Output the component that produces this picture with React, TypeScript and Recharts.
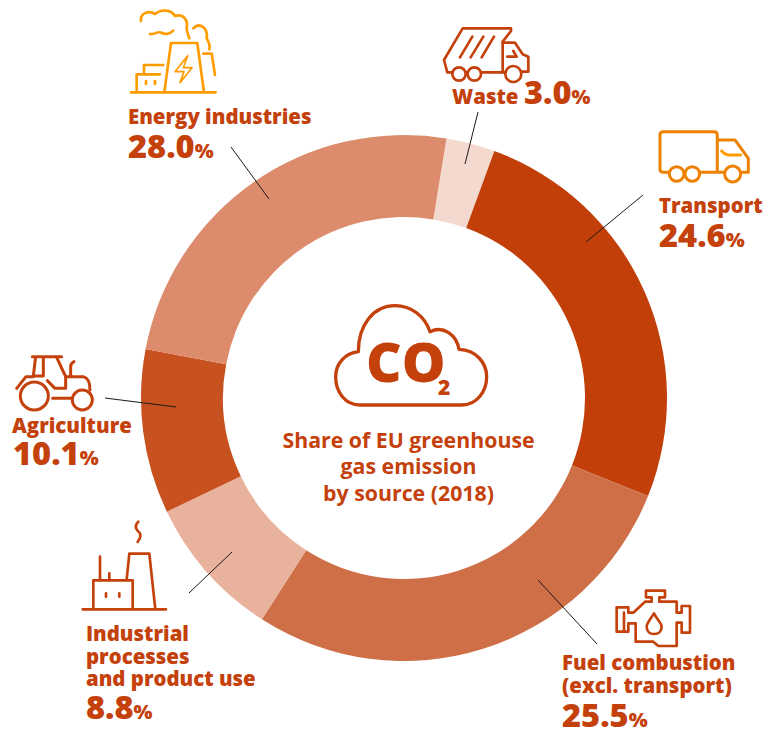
import React from 'react';
import { PieChart, Pie, Cell } from 'recharts';

// Printed percentages, in clockwise order starting at Waste
const names = [['Waste'], ['Transport'], ['Fuel combustion', '(excl. transport)'], ['Industrial', 'processes', 'and product use'], ['Agriculture'], ['Energy industries']];
const printedShares = ['3.0', '24.6', '25.5', '8.8', '10.1', '28.0'];
// Slice sizes as drawn in the picture: the source's arcs do not follow the printed numbers
const drawnShares = [3.0, 25.5, 28.0, 8.8, 10.1, 24.6];
const COLORS = ['#F4D9CE', '#C23F0A', '#CF6F47', '#E8B29D', '#C85120', '#DC8C6C'];

const TEXT = '#C4410C';
const ORANGE = '#FF9C00';
const FONT = '"Open Sans", sans-serif';

const pieData = names.map((name, index) => ({ name: name.join(' '), value: drawnShares[index] }));

// where each label block sits: x, name baselines, number baseline
const labelPos = [
  { x: 452, lines: [104], numX: 524, numY: 104 },
  { x: 659, lines: [213], numX: 659, numY: 247 },
  { x: 562, lines: [670, 693], numX: 562, numY: 727 },
  { x: 86, lines: [641, 663.5, 686], numX: 86, numY: 719 },
  { x: 12, lines: [433], numX: 13, numY: 465 },
  { x: 128, lines: [124], numX: 128, numY: 158 },
];

// leader lines from label to ring
const leaders = [
  [478, 112, 465, 164],
  [643, 195, 586, 242],
  [538, 580, 597, 644],
  [232, 552, 189, 593],
  [105, 398, 176, 407],
  [231, 147, 269, 199],
];

// icons are traced at 3x, hence the scale
function Icon({ x, y, color, width = 8, children }: any) {
  return (
    <g transform={`translate(${x} ${y}) scale(0.3333)`} fill="none" stroke={color} strokeWidth={width} strokeLinecap="round" strokeLinejoin="round">
      {children}
    </g>
  );
}

function Icons() {
  return (
    <>
      {/* energy plant */}
      <Icon x={120} y={0} color={ORANGE}>
        <path d="M33 277H287M133 277L153 129H232L252 277" />
        <path d="M203 167L165 215H192L180 248L216 203H190Z" strokeWidth={5} />
        <path d="M50 277V223H120M72 220V195H130M78 243V252M105 243V252M250 161H275L285 225" />
        <path d="M63 63C60 40 85 30 105 42C125 25 155 30 165 48C190 40 205 60 200 85C200 95 205 105 208 115" />
        <path d="M90 102C105 105 110 92 125 98C135 105 150 102 160 92" />
        <path d="M220 85C240 65 265 85 260 115C265 125 272 135 268 148" />
      </Icon>
      {/* garbage truck */}
      <Icon x={430} y={15} color={TEXT}>
        <path d="M65 172H52L42 135L98 40H243V48L218 80V172H155M110 172H108" />
        <path d="M218 83H255L278 118L295 125V170H275M226 172H218" />
        <path d="M127 65L90 127M160 65L122 127M192 65L155 127M232 125H260L250 108" />
        <circle cx={87} cy={177} r={20} />
        <circle cx={133} cy={177} r={20} />
        <circle cx={250} cy={177} r={24} />
      </Icon>
      {/* delivery truck */}
      <Icon x={430} y={15} color="#EE8100" width={9}>
        <path d="M715 472H700Q690 472 690 462V360Q690 350 700 350H852Q862 350 862 360V472H810M862 375H915L955 430V472H935M885 472H862" />
        <circle cx={740} cy={477} r={22} />
        <circle cx={787} cy={477} r={22} />
        <circle cx={908} cy={477} r={24} />
        <path d="M875 408Q885 422 905 420H932" stroke={ORANGE} />
      </Icon>
      {/* tractor */}
      <Icon x={0} y={340} color={TEXT} width={9}>
        <circle cx={103} cy={168} r={42} />
        <circle cx={247} cy={180} r={30} />
        <path d="M50 145L78 110H100M100 108L107 50M97 50H185M130 52V108H103M170 52L197 110M197 110H250Q270 115 270 150" />
        <path d="M142 122L165 145H197V110M158 175H215M212 108V80Q212 70 222 65" />
      </Icon>
      {/* factory */}
      <Icon x={70} y={510} color={TEXT}>
        <path d="M38 298H288M70 298V211H188V298M170 208L178 131H238L256 298" />
        <path d="M90 140V211M118 190V211M108 250V260M148 250V260" />
        <path d="M205 35C190 50 200 60 210 70C215 85 205 90 203 96" />
      </Icon>
      {/* engine */}
      <Icon x={540} y={570} color={TEXT}>
        <path d="M335 82V95H315L280 128H265V112H230V185H265V160H287V215H340L355 228H410V158H425V188H450V108H425V128H410V95H358V82H375V62H318V82Z" />
        <path d="M252 128V185" />
        <path d="M342 130C330 150 320 160 320 170C320 185 330 192 342 192C355 192 365 185 365 170C365 160 352 150 342 130Z" />
      </Icon>
      {/* cloud */}
      <Icon x={270} y={295} color={TEXT} width={10}>
        <path d="M265 170C265 90 310 32 375 32C425 32 465 65 480 110C520 90 560 120 567 163C620 165 650 205 650 245C650 290 620 330 575 330H270C225 330 197 290 197 245C197 205 225 175 265 170Z" />
      </Icon>
    </>
  );
}

export default function App() {
  return (
    <div style={{ position: 'absolute', left: 0, top: 0, width: 779, height: 731, overflow: 'hidden', background: '#fff' }}>
      <PieChart width={779} height={731} margin={{ top: 0, right: 0, bottom: 0, left: 0 }}>
        <Pie
          data={pieData}
          cx={404}
          cy={398}
          innerRadius={181}
          outerRadius={263}
          startAngle={80.7}
          endAngle={-279.3}
          paddingAngle={0}
          stroke="none"
          dataKey="value"
          isAnimationActive={false}
        >
          {pieData.map((entry, index) => <Cell key={`cell-${index}`} fill={COLORS[index]} />)}
        </Pie>

        <Icons />

        <g fontFamily={FONT} fill={TEXT}>
          {names.map((lines, i) => (
            <g key={`label-${i}`}>
              {lines.map((line, j) => (
                <text key={line} x={labelPos[i].x} y={labelPos[i].lines[j]} fontSize={20.4} fontWeight={800}>{line}</text>
              ))}
              <text x={labelPos[i].numX} y={labelPos[i].numY} fontSize={32.6} fontWeight={800}>
                {printedShares[i]}
                <tspan fontSize={20} fontWeight={800}>%</tspan>
              </text>
            </g>
          ))}

          <text x={366} y={382} fontSize={55} fontWeight={800}>CO</text>
          <text x={438} y={395} fontSize={21} fontWeight={800}>2</text>

          <text x={408.5} y={448} fontSize={21.3} fontWeight={700} textAnchor="middle">Share of EU greenhouse</text>
          <text x={408.5} y={474} fontSize={21.3} fontWeight={700} textAnchor="middle">gas emission</text>
          <text x={408.5} y={501} fontSize={21.3} fontWeight={700} textAnchor="middle">by source (2018)</text>
        </g>
      </PieChart>
      {/* leaders cross the ring, so they go in their own layer above the chart */}
      <svg width={779} height={731} style={{ position: 'absolute', left: 0, top: 0, pointerEvents: 'none' }}>
        {leaders.map(([x1, y1, x2, y2], i) => (
          <line key={`leader-${i}`} x1={x1} y1={y1} x2={x2} y2={y2} stroke="#1a1a1a" strokeWidth={1} />
        ))}
      </svg>
    </div>
  );
}
